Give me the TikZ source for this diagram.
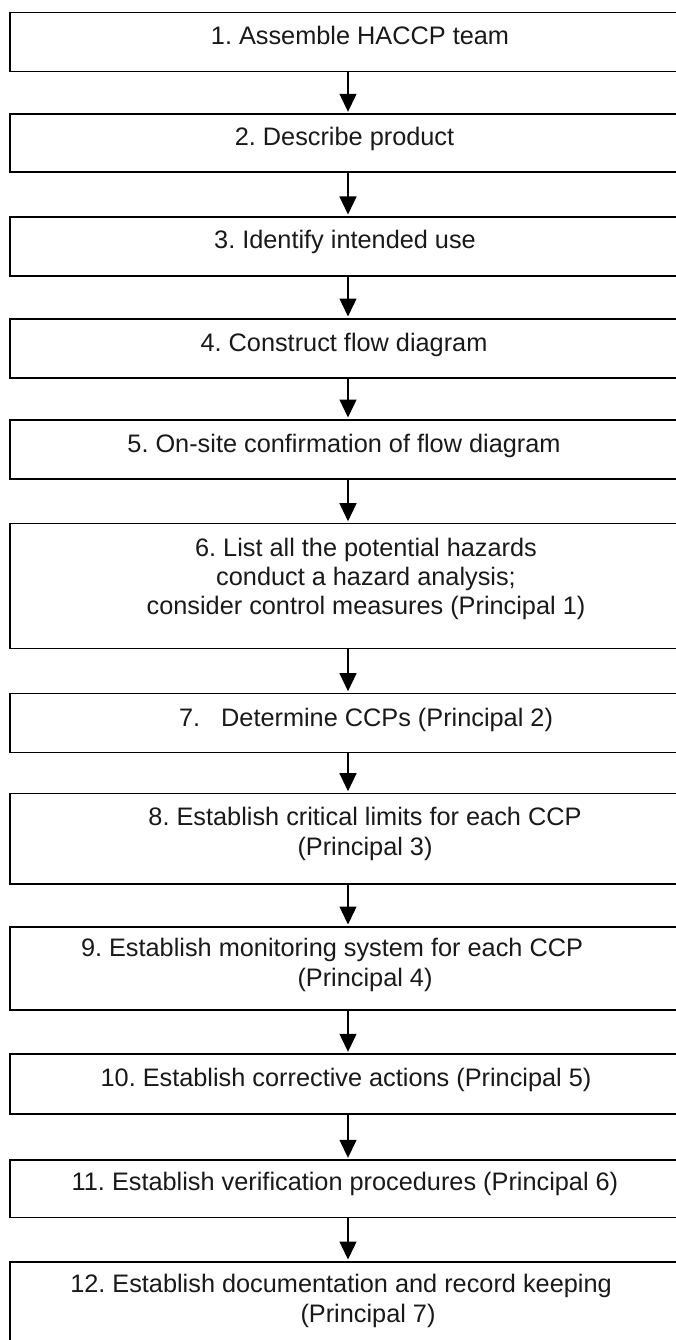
\documentclass[tikz,border=0pt]{standalone}
\usepackage{fontspec}
\setmainfont{Liberation Sans}
\usetikzlibrary{arrows.meta}
\frenchspacing
\begin{document}
\begin{tikzpicture}[x=1pt,y=-1pt,
  stepbox/.style={draw=black, line width=1.6pt, rectangle, minimum width=676pt,
    inner sep=0pt, anchor=north},
  txt/.style={anchor=base, inner sep=0pt, text=black!90,
    font=\fontsize{25.3}{30}\selectfont},
  flow/.style={draw=black, line width=1.3pt,
    -{Triangle[width=17pt,length=18pt]}, shorten >=1.5pt}]
\useasboundingbox (0,0) rectangle (676,1340);
\clip (0,0) rectangle (676,1340);

% step boxes (x = 10 .. 686)
\node[stepbox, minimum height=59pt]   (b1)  at (348,11.7)   {};
\node[stepbox, minimum height=58pt]   (b2)  at (348,113.3)  {};
\node[stepbox, minimum height=59pt]   (b3)  at (348,216)    {};
\node[stepbox, minimum height=59pt]   (b4)  at (348,318)    {};
\node[stepbox, minimum height=59pt]   (b5)  at (348,419)    {};
\node[stepbox, minimum height=125pt]  (b6)  at (348,522.7)  {};
\node[stepbox, minimum height=59pt]   (b7)  at (348,692.7)  {};
\node[stepbox, minimum height=90.6pt] (b8)  at (348,792.7)  {};
\node[stepbox, minimum height=83.3pt] (b9)  at (348,926)    {};
\node[stepbox, minimum height=60pt]   (b10) at (348,1053.3) {};
\node[stepbox, minimum height=57.4pt] (b11) at (348,1159.3) {};
\node[stepbox, minimum height=90pt]   (b12) at (348,1261)   {};

% step texts
\node[txt] (t1)  at (360,45)     {1. Assemble HACCP team};
\node[txt] (t2)  at (344.5,145.7) {2. Describe product};
\node[txt] (t3)  at (345,248.3)  {3. Identify intended use};
\node[txt] (t4)  at (344,351.7)  {4. Construct flow diagram};
\node[txt] (t5)  at (344,452.3)  {5. On-site confirmation of flow diagram};
\node[txt] (t6a) at (366,556)    {6. List all the potential hazards};
\node[txt] (t6b) at (366,585)    {conduct a hazard analysis;};
\node[txt] (t6c) at (366,614)    {consider control measures (Principal 1)};
\node[txt] (t7)  at (366,726.7)  {7.~~~Determine CCPs (Principal 2)};
\node[txt] (t8a) at (365,825)    {8. Establish critical limits for each CCP};
\node[txt] (t8b) at (365,855)    {(Principal 3)};
\node[txt] (t9a) at (332,956.7)  {9. Establish monitoring system for each CCP};
\node[txt] (t9b) at (365,986.7)  {(Principal 4)};
\node[txt] (t10) at (346,1086.7) {10. Establish corrective actions (Principal 5)};
\node[txt] (t11) at (345,1190.7) {11. Establish verification procedures (Principal 6)};
\node[txt] (t12a) at (341,1292)  {12. Establish documentation and record keeping};
\node[txt] (t12b) at (368,1322.7) {(Principal 7)};

% arrows between consecutive steps
\draw[flow] (b1.south)  -- (b2.north);
\draw[flow] (b2.south)  -- (b3.north);
\draw[flow] (b3.south)  -- (b4.north);
\draw[flow] (b4.south)  -- (b5.north);
\draw[flow] (b5.south)  -- (b6.north);
\draw[flow] (b6.south)  -- (b7.north);
\draw[flow] (b7.south)  -- (b8.north);
\draw[flow] (b8.south)  -- (b9.north);
\draw[flow] (b9.south)  -- (b10.north);
\draw[flow] (b10.south) -- (b11.north);
\draw[flow] (b11.south) -- (b12.north);
\end{tikzpicture}
\end{document}
